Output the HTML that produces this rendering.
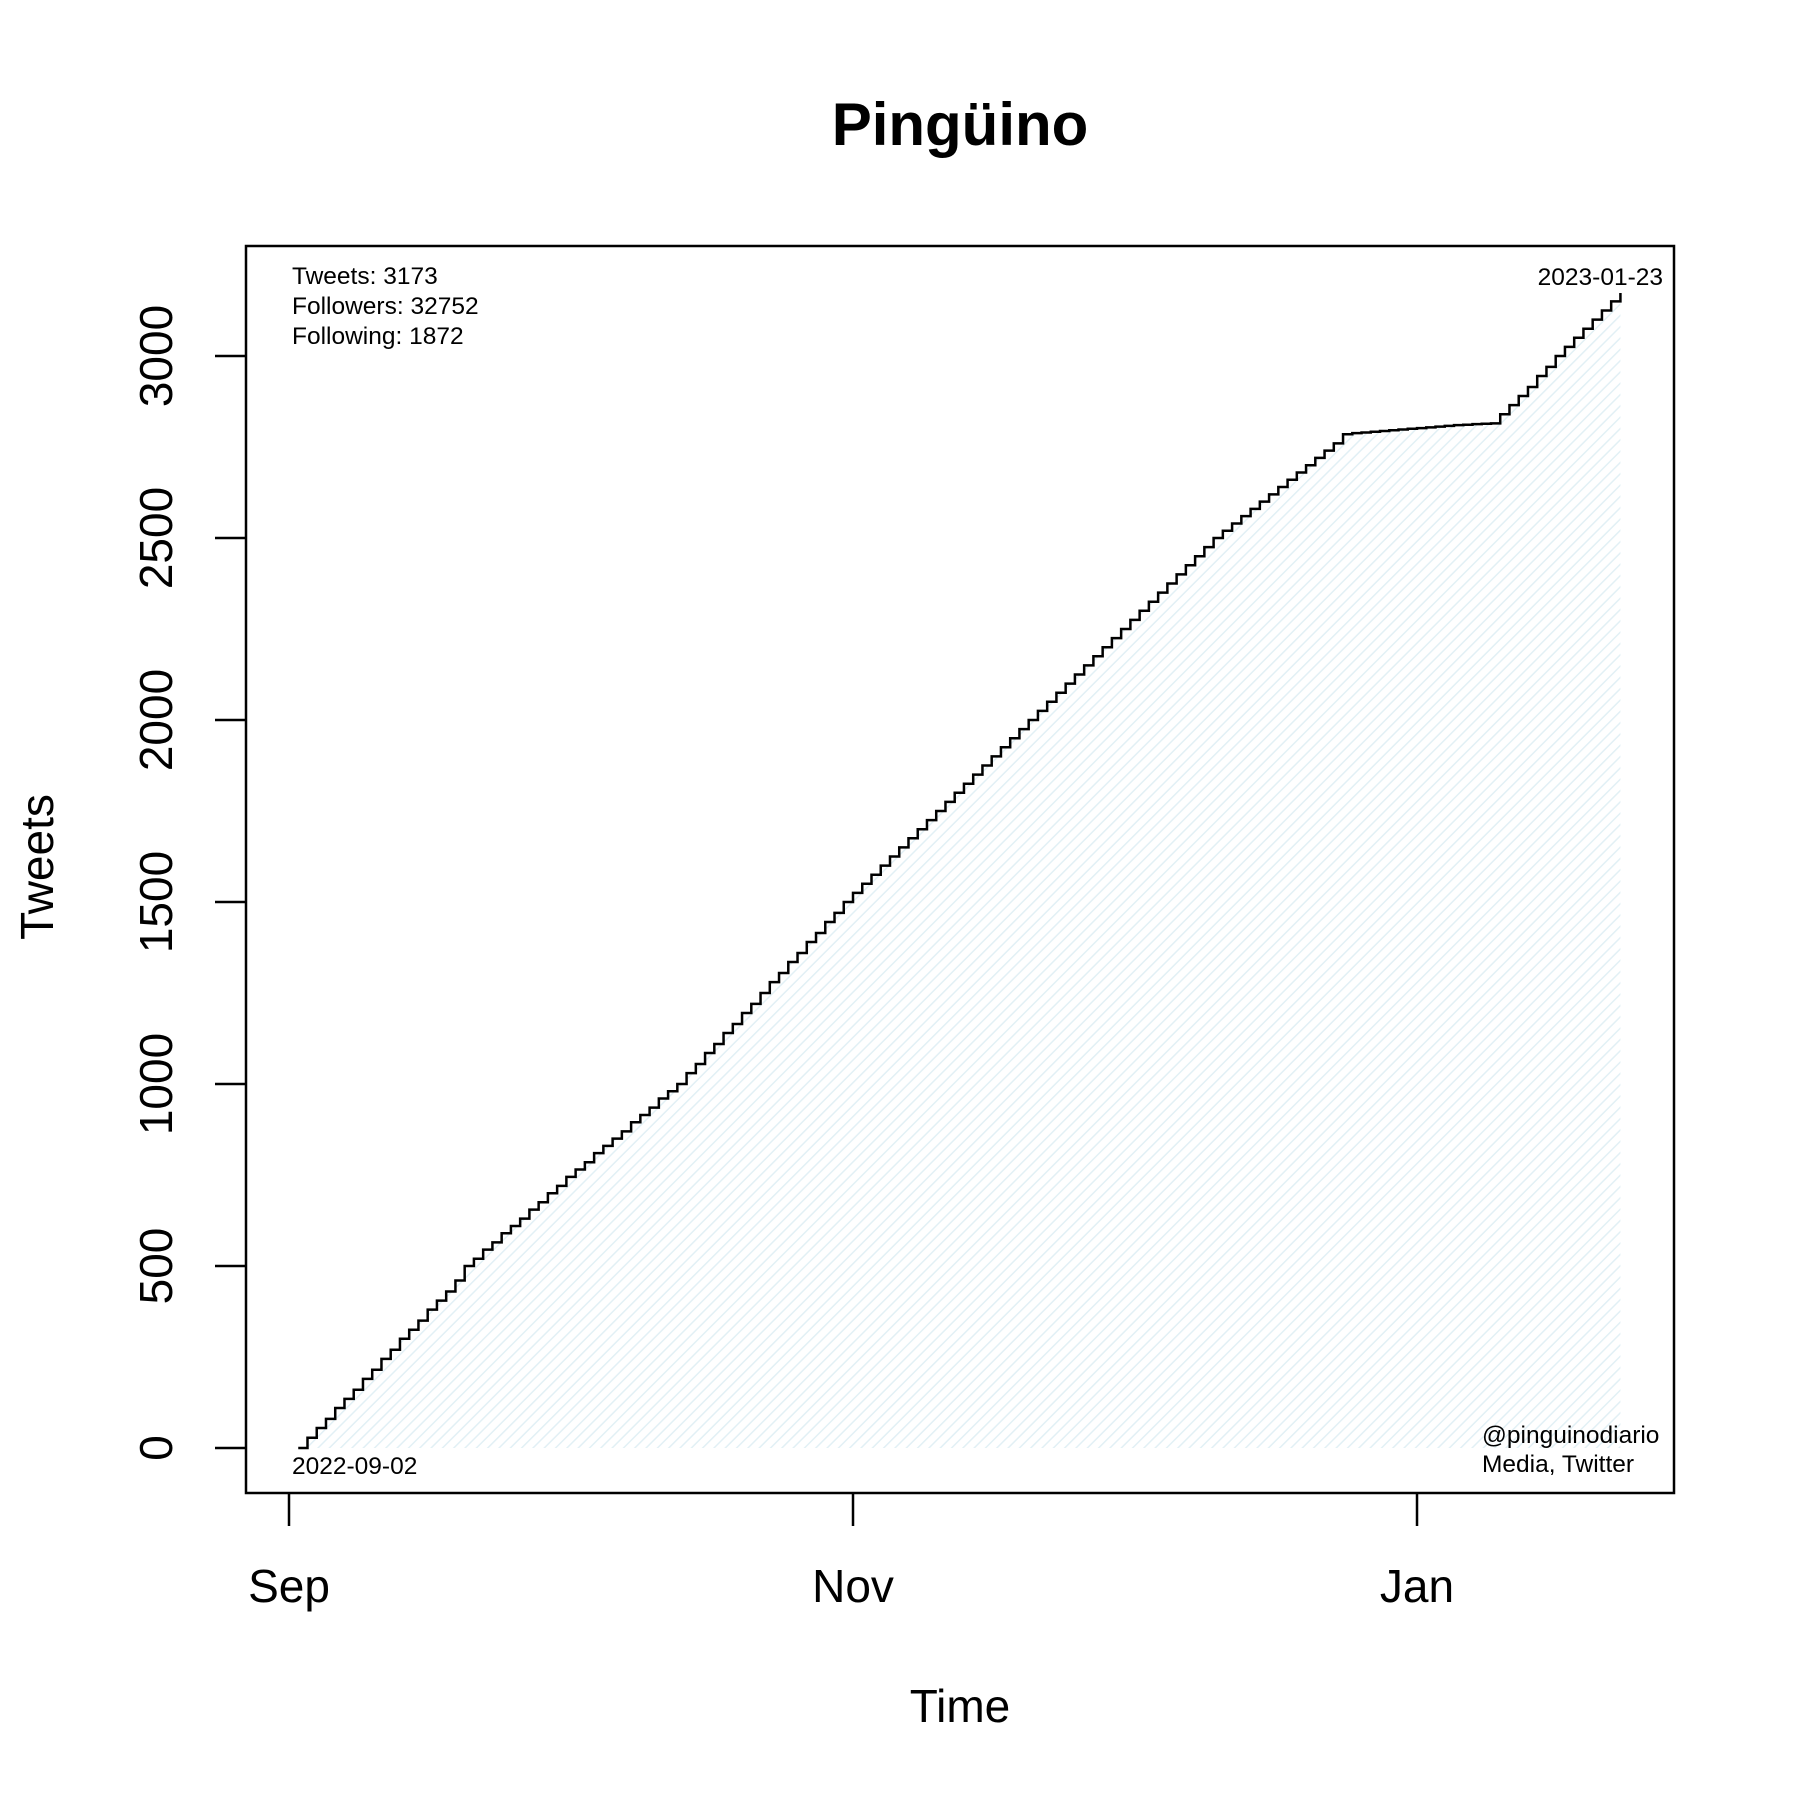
<!DOCTYPE html>
<html><head><meta charset="utf-8"><style>body{margin:0;background:#fff}svg{display:block;font-family:"Liberation Sans",Arial,sans-serif}</style></head>
<body>
<svg id="chart" width="1800" height="1800" viewBox="0 0 1800 1800" xmlns="http://www.w3.org/2000/svg">
<defs>
<pattern id="hatch" patternUnits="userSpaceOnUse" width="8" height="8" patternTransform="rotate(45)">
<line x1="0" y1="0" x2="0" y2="8" stroke="#cfe6ee" stroke-width="3" opacity="0.6"/>
</pattern>
</defs>
<text x="960" y="145" font-size="60" font-weight="bold" text-anchor="middle">Pingüino</text>
<rect x="246" y="246" width="1428" height="1247" fill="none" stroke="#000" stroke-width="2.5"/>
<g id="fillg"></g>
<g id="lineg"></g>
<g id="axes"></g>
<text x="292" y="284" font-size="24.5">Tweets: 3173</text>
<text x="292" y="314" font-size="24.5">Followers: 32752</text>
<text x="292" y="344" font-size="24.5">Following: 1872</text>
<text x="1663" y="285" font-size="24.5" text-anchor="end">2023-01-23</text>
<text x="292" y="1474" font-size="24.5">2022-09-02</text>
<text x="1482" y="1443" font-size="24.5">@pinguinodiario</text>
<text x="1482" y="1472" font-size="24.5">Media, Twitter</text>
<text x="960" y="1722" font-size="46" text-anchor="middle">Time</text>
<text transform="translate(53,867) rotate(-90)" font-size="46" text-anchor="middle">Tweets</text>
</svg>
<script>
const dayIndex0 = 1; // first data day offset from Sep 1
const tweetCounts = [0,28,55,80,110,135,160,190,215,245,270,300,325,350,380,405,430,460,500,
520,545,565,590,610,630,655,675,700,720,745,765,785,810,830,850,870,895,915,935,960,980,1000,
1030,1055,1085,1110,1140,1165,1195,1220,1250,1280,1305,1335,1360,1390,1415,1445,1470,1500,
1525,1550,1575,1600,1625,1650,1675,1700,1725,1750,1775,1800,1825,1850,1875,1900,1925,1950,1975,2000,
2025,2050,2075,2100,2125,2150,2175,2200,2225,2250,2275,2300,2325,2350,2375,2400,2425,2450,2475,2500,
2520,2540,2560,2580,2600,2620,2640,2660,2680,2700,2720,2740,2760,2785,
2788,2790,2792,2794,2796,2798,2800,2802,2804,2806,2808,2810,2811,2813,2814,2815,
2840,2865,2890,2915,2945,2970,3000,3025,3050,3075,3100,3125,3150,3173];
const yTicks = [0,500,1000,1500,2000,2500,3000];
const xTickLabels = ["Sep","Nov","Jan"];
const xTickDays = [0,61,122];

const NS="http://www.w3.org/2000/svg";
const xs = d => 289 + d*9.246;
const ys = v => 1448 - v*0.364;
function mk(tag, attrs, parent){const e=document.createElementNS(NS,tag);for(const k in attrs)e.setAttribute(k,attrs[k]);parent.appendChild(e);return e;}

let d="";
tweetCounts.forEach((v,i)=>{
  const y=ys(v);
  if(i===0) d+=`M${xs(dayIndex0)},${y}`; else d+=` V${y}`;
  if(i<tweetCounts.length-1) d+=` H${xs(dayIndex0+i+1)}`;
});
const fill = mk('path',{d:d+` V${ys(0)} H${xs(dayIndex0)} Z`,fill:'url(#hatch)'},document.getElementById('fillg'));


const line = mk('path',{d:d,fill:'none',stroke:'#000','stroke-width':2.5},document.getElementById('lineg'));



const ax=document.getElementById('axes');
yTicks.forEach(v=>{
  const t=mk('line',{x1:215,x2:246,y1:ys(v),y2:ys(v),stroke:'#000','stroke-width':2.5},ax);
  
  
  const l=mk('text',{transform:`translate(172,${ys(v)}) rotate(-90)`,'font-size':46,'text-anchor':'middle'},ax);
  l.textContent=v;
  
  
});
xTickDays.forEach((dd,i)=>{
  const t=mk('line',{x1:xs(dd),x2:xs(dd),y1:1493,y2:1526,stroke:'#000','stroke-width':2.5},ax);
  
  
  const l=mk('text',{x:xs(dd),y:1602,'font-size':46,'text-anchor':'middle'},ax);
  l.textContent=xTickLabels[i];
  
  
});
</script>
</body></html>
